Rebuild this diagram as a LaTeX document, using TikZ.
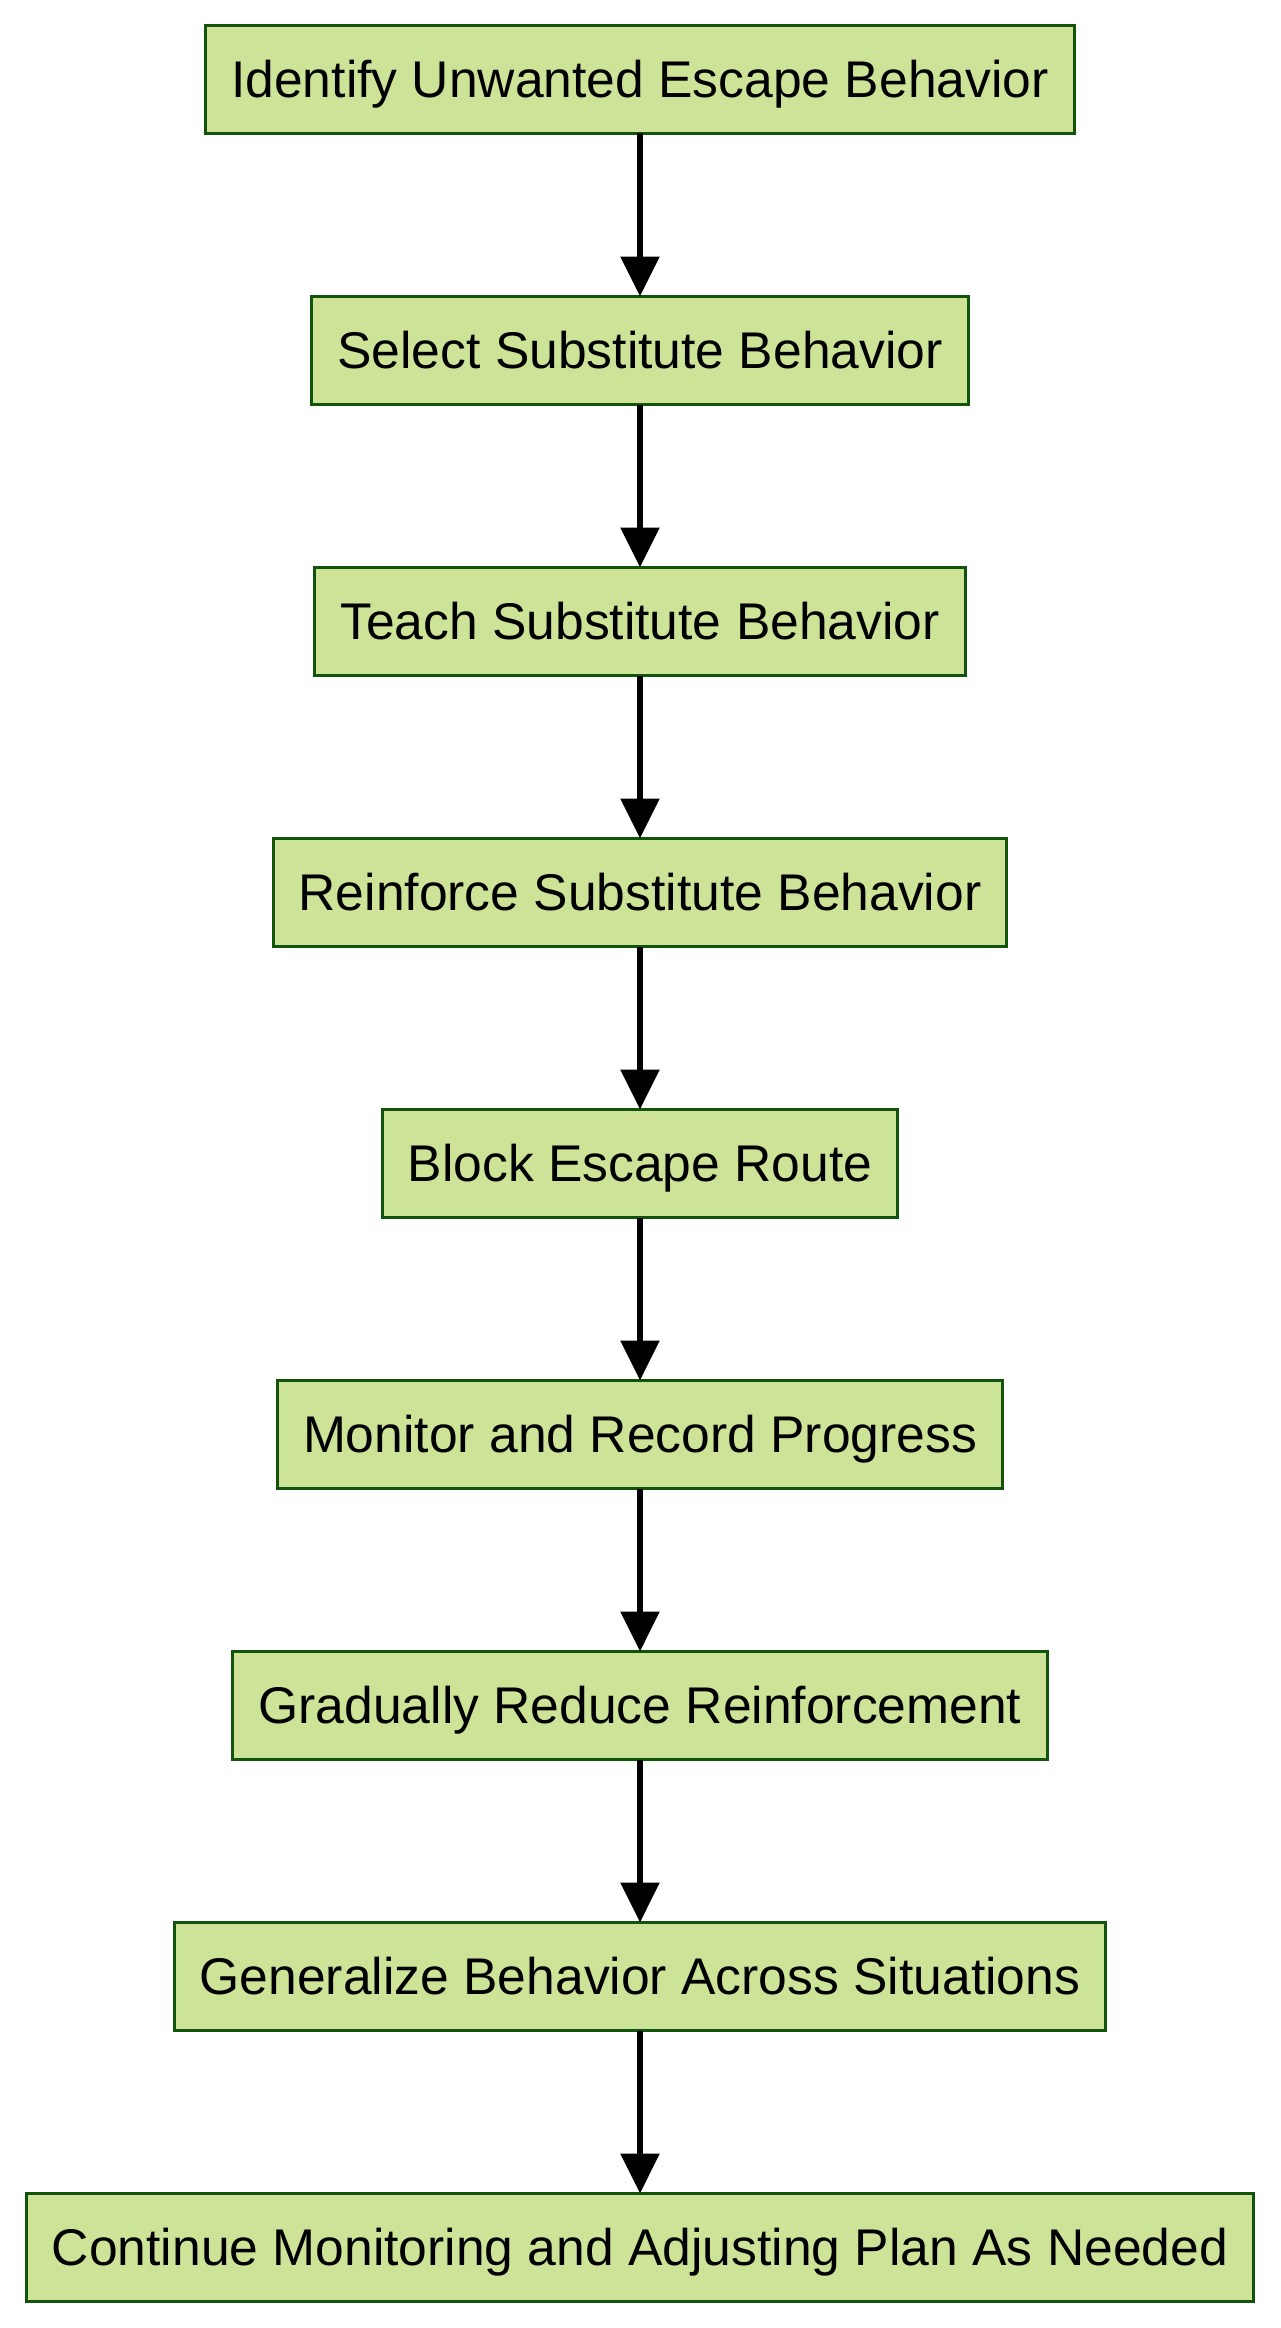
\documentclass[tikz,border=0pt]{standalone}
\usepackage{fontspec}
\setmainfont{Liberation Sans}
\usetikzlibrary{arrows.meta,positioning}
\definecolor{stepfill}{HTML}{CDE498}
\definecolor{stepline}{HTML}{13540C}

\begin{document}
\begin{tikzpicture}[font=\fontsize{25.8}{31}\selectfont,>={Triangle[length=20pt,width=19pt]},
    stepbox/.style={draw=stepline,fill=stepfill,line width=1.5pt,minimum height=54pt,inner xsep=12.8pt,
      text height=23.3pt,text depth=5.5pt,outer sep=0pt},
    node distance=81.5pt]
    \useasboundingbox (0,0) rectangle (640pt,-1164pt);
    \node[stepbox] (s1) at (320pt,-39.75pt) {Identify Unwanted Escape Behavior};
    \node[stepbox,below=of s1] (s2) {Select Substitute Behavior};
    \node[stepbox,below=of s2] (s3) {Teach Substitute Behavior};
    \node[stepbox,below=of s3] (s4) {Reinforce Substitute Behavior};
    \node[stepbox,below=of s4] (s5) {Block Escape Route};
    \node[stepbox,below=of s5] (s6) {Monitor and Record Progress};
    \node[stepbox,below=of s6] (s7) {Gradually Reduce Reinforcement};
    \node[stepbox,below=of s7] (s8) {Generalize Behavior Across Situations};
    \node[stepbox,below=of s8] (s9) {Continue Monitoring and Adjusting Plan As Needed};
    \foreach \a/\b in {s1/s2,s2/s3,s3/s4,s4/s5,s5/s6,s6/s7,s7/s8,s8/s9}
      \draw[->,line width=3pt] (\a) -- (\b);
\end{tikzpicture}
\end{document}
